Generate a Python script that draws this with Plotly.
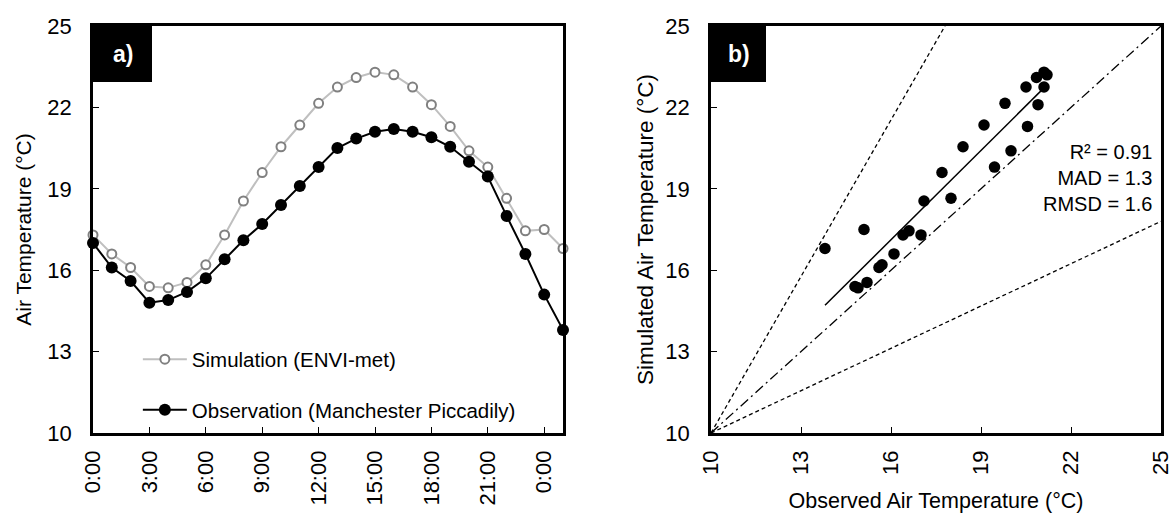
import numpy as np
import plotly.graph_objects as go

# ---- data ----
hours = [0, 1, 2, 3, 4, 5, 6, 7, 8, 9, 10, 11, 12, 13, 14, 15, 16, 17, 18, 19, 20, 21, 22, 23, 24, 25]
observation = [17.0, 16.1, 15.6, 14.8, 14.9, 15.2, 15.7, 16.4, 17.1, 17.7, 18.4, 19.1, 19.8,
               20.5, 20.85, 21.1, 21.2, 21.1, 20.9, 20.55, 20.0, 19.45, 18.0, 16.6, 15.1, 13.8]
simulation = [17.3, 16.6, 16.1, 15.4, 15.35, 15.55, 16.2, 17.3, 18.55, 19.6, 20.55, 21.35, 22.15,
              22.75, 23.1, 23.3, 23.2, 22.75, 22.1, 21.3, 20.4, 19.8, 18.65, 17.45, 17.5, 16.8]
hour_ticks = [0, 3, 6, 9, 12, 15, 18, 21, 24]
hour_labels = ["0:00", "3:00", "6:00", "9:00", "12:00", "15:00", "18:00", "21:00", "0:00"]
temp_ticks = [10, 13, 16, 19, 22, 25]
one_to_one = [10, 25]
upper_ref_x = [10, 17.8]
upper_ref_y = [10, 25]
lower_ref_x = [10, 25]
lower_ref_y = [10, 17.8]
stats_text = "R² = 0.91<br>MAD = 1.3<br>RMSD = 1.6"

FONT = "Liberation Sans, Arial, sans-serif"

# regression line
slope, intercept = np.polyfit(observation, simulation, 1)
fit_x = [min(observation), max(observation)]
fit_y = [slope * v + intercept for v in fit_x]

fig = go.Figure()

fig.add_trace(go.Scatter(
    x=hours, y=simulation, mode="lines+markers", name="Simulation (ENVI-met)",
    line=dict(color="#bfbfbf", width=2),
    marker=dict(symbol="circle", size=9, color="white", line=dict(color="#808080", width=2)),
    cliponaxis=False, xaxis="x", yaxis="y", legendgroup="sim"))
fig.add_trace(go.Scatter(
    x=hours, y=observation, mode="lines+markers", name="Observation (Manchester Piccadily)",
    line=dict(color="black", width=2),
    marker=dict(symbol="circle", size=12, color="black"),
    cliponaxis=False, xaxis="x", yaxis="y", legendgroup="obs"))

# panel b
fig.add_trace(go.Scatter(x=upper_ref_x, y=upper_ref_y, mode="lines", showlegend=False,
                         line=dict(color="black", width=1.3, dash="4px,3px"), xaxis="x2", yaxis="y2"))
fig.add_trace(go.Scatter(x=lower_ref_x, y=lower_ref_y, mode="lines", showlegend=False,
                         line=dict(color="black", width=1.3, dash="4px,3px"), xaxis="x2", yaxis="y2"))
fig.add_trace(go.Scatter(x=one_to_one, y=one_to_one, mode="lines", showlegend=False,
                         line=dict(color="black", width=1.3, dash="10px,4px,2px,4px"), xaxis="x2", yaxis="y2"))
fig.add_trace(go.Scatter(x=fit_x, y=fit_y, mode="lines", showlegend=False,
                         line=dict(color="black", width=1.5), xaxis="x2", yaxis="y2"))
fig.add_trace(go.Scatter(x=observation, y=simulation, mode="markers", showlegend=False,
                         marker=dict(size=11.5, color="black"), cliponaxis=False,
                         xaxis="x2", yaxis="y2"))

axis_common = dict(showline=True, linecolor="black", linewidth=2.5, mirror=True,
                   ticks="inside", ticklen=6, tickcolor="black", tickwidth=1.3,
                   showgrid=False, zeroline=False, automargin=False, ticklabeloverflow="allow",
                   tickfont=dict(family=FONT, size=22, color="black"))

fig.update_layout(
    width=1173, height=513,
    margin=dict(l=93, r=12, t=26, b=80),
    paper_bgcolor="white", plot_bgcolor="white",
    font=dict(family=FONT, color="black"),
    xaxis=dict(domain=[0, 470 / 1068], range=[0, 25], tickvals=hour_ticks, ticktext=hour_labels,
               tickangle=-90, ticklabelstandoff=6, **axis_common),
    yaxis=dict(domain=[0, 1], range=[10, 25], tickvals=temp_ticks, ticklabelstandoff=14,
               title=dict(text="Air Temperature (°C)", font=dict(family=FONT, size=21), standoff=11),
               **axis_common),
    xaxis2=dict(domain=[618 / 1068, 1], range=[10, 25], tickvals=temp_ticks, tickangle=-90,
                ticklabelstandoff=6, anchor="y2",
                title=dict(text="Observed Air Temperature (°C)", font=dict(family=FONT, size=21.5), standoff=22),
                **axis_common),
    yaxis2=dict(domain=[0, 1], range=[10, 25], tickvals=temp_ticks, anchor="x2", ticklabelstandoff=14,
                title=dict(text="Simulated Air Temperature (°C)", font=dict(family=FONT, size=22.5), standoff=6),
                **axis_common),
    showlegend=True,
    legend=dict(x=0.042, y=0.23, xanchor="left", yanchor="top", bgcolor="rgba(0,0,0,0)",
                font=dict(family=FONT, size=20.5, color="black"), tracegroupgap=21, itemwidth=44),
    shapes=[
        dict(type="rect", xref="x domain", yref="y domain", x0=0, x1=59 / 470, y0=1 - 56 / 407, y1=1,
             fillcolor="black", line=dict(width=0)),
        dict(type="rect", xref="x2 domain", yref="y2 domain", x0=0, x1=55 / 450, y0=1 - 56 / 407, y1=1,
             fillcolor="black", line=dict(width=0)),
    ],
    annotations=[
        dict(text="<b>a)</b>", xref="x domain", yref="y domain", x=29.5 / 470, y=1 - 28 / 407,
             xanchor="center", yanchor="middle",
             showarrow=False, font=dict(family=FONT, size=23, color="white")),
        dict(text="<b>b)</b>", xref="x2 domain", yref="y2 domain", x=27.5 / 450, y=1 - 28 / 407,
             xanchor="center", yanchor="middle",
             showarrow=False, font=dict(family=FONT, size=23, color="white")),
        dict(text=stats_text, xref="x2 domain", yref="y2 domain", x=0.985, y=1 - 113 / 407,
             xanchor="right", yanchor="top", align="right", showarrow=False,
             font=dict(family=FONT, size=20, color="black")),
    ],
)

fig.write_html("out.html")
